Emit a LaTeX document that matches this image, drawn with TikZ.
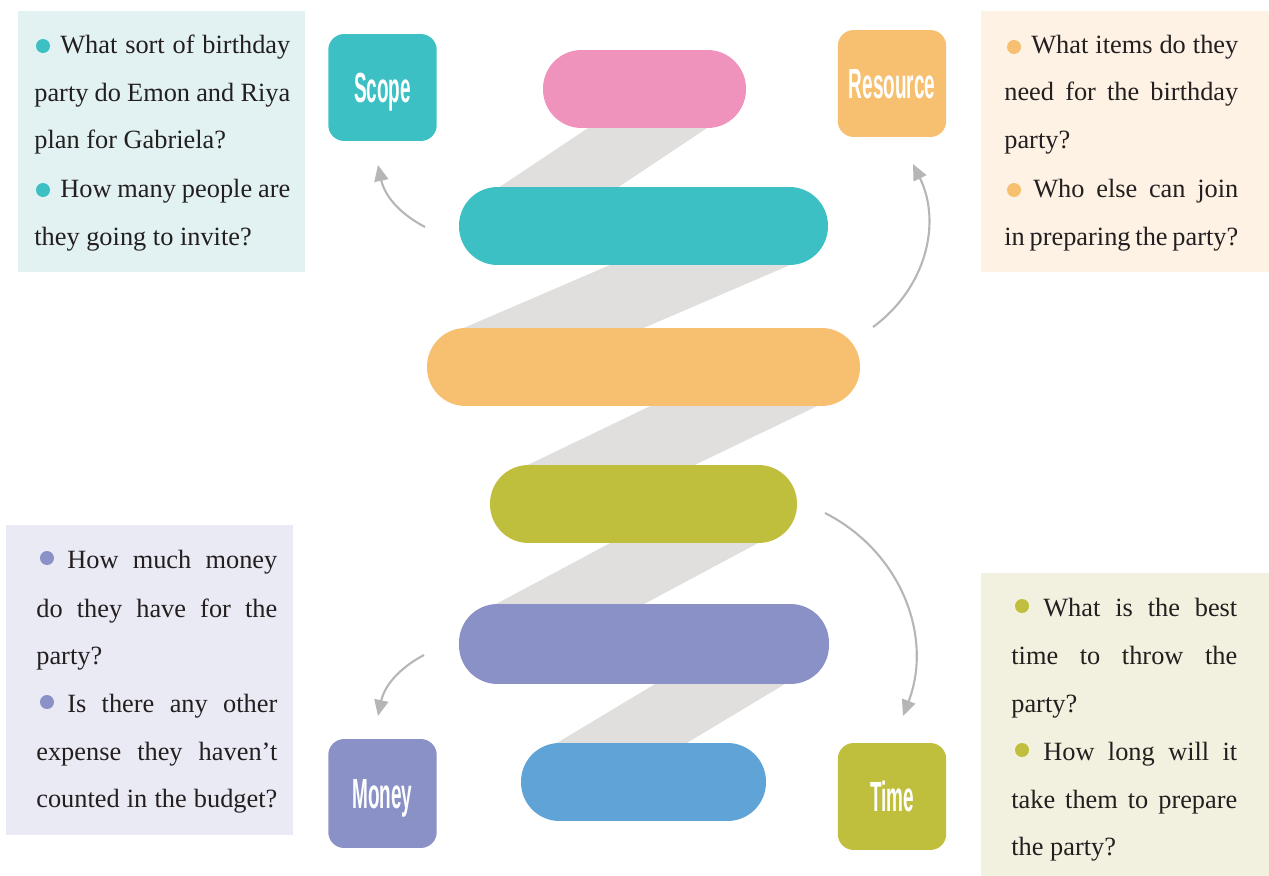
\documentclass[tikz,border=0pt]{standalone}
\usepackage{fontspec}
\usepackage{graphicx}
\setmainfont{Liberation Serif}
\setsansfont{Liberation Sans}
\usetikzlibrary{arrows.meta}
\definecolor{cpink}{HTML}{EF93BD}
\definecolor{cteal}{HTML}{3DC0C4}
\definecolor{corange}{HTML}{F7BF70}
\definecolor{colive}{HTML}{C0BF3D}
\definecolor{cpurple}{HTML}{8991C7}
\definecolor{cblue}{HTML}{5FA3D7}
\definecolor{cband}{HTML}{E0DFDD}
\definecolor{carrow}{HTML}{B6B6B6}
\definecolor{ctext}{HTML}{231F20}
\definecolor{bgteal}{HTML}{E2F2F2}
\definecolor{bgorange}{HTML}{FDF2E4}
\definecolor{bgpurple}{HTML}{EAEAF4}
\definecolor{bgolive}{HTML}{F2F1DF}
\newcommand{\taglabel}[1]{\raisebox{0pt}[0.6cm][0pt]{\scalebox{0.45}[1]{#1}}}
\begin{document}
\begin{tikzpicture}[x=0.02cm,y=-0.02cm,
  pill/.style={rectangle, rounded corners=0.77cm, minimum height=1.56cm, inner sep=0pt},
  tag/.style={rectangle, rounded corners=0.32cm, minimum width=2.17cm, minimum height=2.14cm, inner sep=0pt, text=white, font=\sffamily\bfseries\fontsize{24}{28}\selectfont},
  band/.style={fill=cband},
  conn/.style={draw=carrow, line width=1.2pt, -{Triangle[length=0.32cm,width=0.28cm]}},
  qtext/.style={anchor=base west, inner sep=0pt, text=ctext, font=\fontsize{15}{17}\selectfont},
  dot/.style={circle, inner sep=0pt, minimum size=0.28cm}
]
\useasboundingbox (0,0) rectangle (1269,876);
% question panels
\fill[bgteal] (18,11) rectangle (305,272);
\fill[bgorange] (981,11) rectangle (1269,272);
\fill[bgpurple] (6,525) rectangle (293,835);
\fill[bgolive] (981,573) rectangle (1269,876);
% grey bands
\fill[band] (600,120) -- (719,120) -- (606.5,195) -- (487.5,195) -- cycle;
\fill[band] (624,259) -- (804,259) -- (632,333) -- (452,333) -- cycle;
\fill[band] (667,398) -- (834,398) -- (678,473) -- (511,473) -- cycle;
\fill[band] (627,534) -- (775,534) -- (631,611) -- (483,611) -- cycle;
\fill[band] (670,675) -- (800,675) -- (673.5,751) -- (543.5,751) -- cycle;
% pills
\node[pill, fill=cpink, minimum width=4.06cm] (p1) at (644.5,89) {};
\node[pill, fill=cteal, minimum width=7.38cm] (p2) at (643.5,226) {};
\node[pill, fill=corange, minimum width=8.66cm] (p3) at (643.5,367) {};
\node[pill, fill=colive, minimum width=6.14cm] (p4) at (643.5,504) {};
\node[pill, fill=cpurple, minimum width=7.40cm, minimum height=1.6cm] (p5) at (644,644) {};
\node[pill, fill=cblue, minimum width=4.90cm] (p6) at (643.5,782) {};
% tags
\node[tag, fill=cteal] (scope) at (382.5,87.5) {\taglabel{Scope}};
\node[tag, fill=corange] (resource) at (892,83.5) {\taglabel{Resource}};
\node[tag, fill=cpurple, minimum height=2.18cm] (money) at (382.5,793.5) {\taglabel{Money}};
\node[tag, fill=colive] (time) at (892,796.5) {\taglabel{Time}};
% connectors
\coordinate (sA) at (425,227);
\coordinate (sB) at (378,165);
\coordinate (rA) at (873,327);
\coordinate (rB) at (913,164);
\coordinate (tA) at (825,513);
\coordinate (tB) at (903,716);
\coordinate (mA) at (424,655);
\coordinate (mB) at (378,716);
\draw[conn] (sA) to[bend left=25] (sB);
\draw[conn] (rA) to[bend right=40] (rB);
\draw[conn] (tA) to[bend left=42] (tB);
\draw[conn] (mA) to[bend right=25] (mB);
% top-left text
\node[dot, fill=cteal] (d1) at (43,46) {};
\node[qtext] (tl1) at (60,53) {\makebox[4.6cm][s]{What sort of birthday}};
\node[qtext] (tl2) at (34,101) {\makebox[5.12cm][s]{party do Emon and Riya}};
\node[qtext] (tl3) at (34,148) {plan for Gabriela?};
\node[dot, fill=cteal] (d2) at (43,190) {};
\node[qtext] (tl4) at (60,197) {\makebox[4.6cm][s]{How many people are}};
\node[qtext] (tl5) at (34,245) {they going to invite?};
% top-right text
\node[dot, fill=corange] (d3) at (1014,47) {};
\node[qtext] (tr1) at (1031,53) {\makebox[4.14cm][s]{What items do they}};
\node[qtext] (tr2) at (1004,100) {\makebox[4.68cm][s]{need for the birthday}};
\node[qtext] (tr3) at (1004,148) {party?};
\node[dot, fill=corange] (d4) at (1014,190) {};
\node[qtext] (tr4) at (1033,197) {\makebox[4.1cm][s]{Who else can join}};
\node[qtext] (tr5) at (1004,245) {\makebox[4.68cm][s]{in preparing the party?}};
% bottom-left text
\node[dot, fill=cpurple] (d5) at (47,558) {};
\node[qtext] (bl1) at (67,568) {\makebox[4.2cm][s]{How much money}};
\node[qtext] (bl2) at (36,617) {\makebox[4.82cm][s]{do they have for the}};
\node[qtext] (bl3) at (36,664) {party?};
\node[dot, fill=cpurple] (d6) at (47,702) {};
\node[qtext] (bl4) at (67,712) {\makebox[4.2cm][s]{Is there any other}};
\node[qtext] (bl5) at (36,760) {\makebox[4.82cm][s]{expense they haven’t}};
\node[qtext] (bl6) at (36,807) {\makebox[4.82cm][s]{counted in the budget?}};
% bottom-right text
\node[dot, fill=colive] (d7) at (1022,606) {};
\node[qtext] (br1) at (1043,616) {\makebox[3.88cm][s]{What is the best}};
\node[qtext] (br2) at (1011,664) {\makebox[4.52cm][s]{time to throw the}};
\node[qtext] (br3) at (1011,712) {party?};
\node[dot, fill=colive] (d8) at (1022,750) {};
\node[qtext] (br4) at (1043,760) {\makebox[3.88cm][s]{How long will it}};
\node[qtext] (br5) at (1011,808) {\makebox[4.52cm][s]{take them to prepare}};
\node[qtext] (br6) at (1011,855) {the party?};
\end{tikzpicture}
\end{document}
